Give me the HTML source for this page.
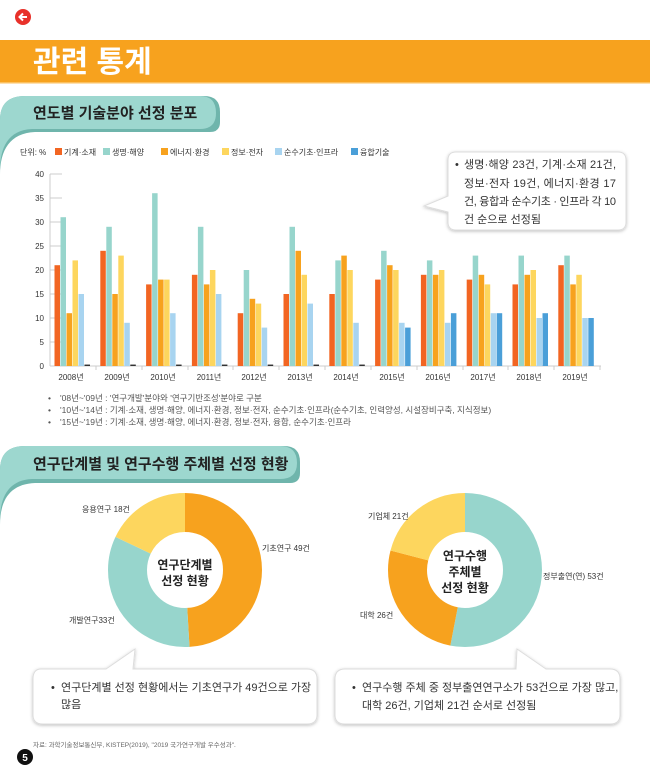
<!DOCTYPE html>
<html><head><meta charset="utf-8"><style>
html,body{margin:0;padding:0;background:#fff;}
svg{display:block;font-family:"Liberation Sans","Noto Sans CJK KR",sans-serif;}
.a{fill:#f26522}.b{fill:#97d5cc}.c{fill:#f7a21e}.d{fill:#fdd65e}.e{fill:#a8d4f0}.f{fill:#4a9fd8}.z{fill:#333}
.yl{font-size:8px;fill:#333;text-anchor:end}
.xl{font-size:8px;fill:#333;text-anchor:middle}
.lg{font-size:8px;fill:#333}
.nt{font-size:8.5px;fill:#555}
</style></head><body>
<svg width="650" height="780" viewBox="0 0 650 780" xmlns="http://www.w3.org/2000/svg">
<defs><filter id="sh" x="-10%" y="-10%" width="120%" height="130%"><feDropShadow dx="0" dy="1" stdDeviation="1.5" flood-color="#000" flood-opacity="0.25"/></filter></defs>
<circle cx="23" cy="17" r="8" fill="#e8312a"/>
<path d="M27 17 H20 M23 13.5 L19.5 17 L23 20.5" stroke="#fff" stroke-width="2" fill="none"/>
<rect x="0" y="40" width="650" height="43" fill="#f7a21e"/>
<rect x="0" y="82" width="650" height="1.5" fill="#fbc060"/>
<text x="33" y="72" font-size="30" font-weight="bold" fill="#fff">관련 통계</text>

<path d="M0 175 C0 150 10 133 35 132 L210 132 Q220 132 220 122 L220 112 Q220 96 204 96 L25 96 Q0 96 0 120 Z" fill="#6fb5ac"/>
<path d="M0 170 C0 148 8 130 32 129 L200 129 Q216 129 216 113 Q216 96 200 96 L25 96 Q0 96 0 120 Z" fill="#9dd7cf"/>
<text x="33" y="118" font-size="15" font-weight="bold" fill="#222">연도별 기술분야 선정 분포</text>

<text x="20" y="155" class="lg">단위: %</text>
<rect x="55" y="148" width="7" height="7" class="a"/><text x="64" y="155" class="lg">기계·소재</text>
<rect x="103" y="148" width="7" height="7" class="b"/><text x="112" y="155" class="lg">생명·해양</text>
<rect x="161" y="148" width="7" height="7" class="c"/><text x="170" y="155" class="lg">에너지·환경</text>
<rect x="222" y="148" width="7" height="7" class="d"/><text x="231" y="155" class="lg">정보·전자</text>
<rect x="275" y="148" width="7" height="7" class="e"/><text x="284" y="155" class="lg">순수기초·인프라</text>
<rect x="351" y="148" width="7" height="7" class="f"/><text x="360" y="155" class="lg">융합기술</text>

<path d="M456 152 H618 Q626 152 626 160 V222 Q626 230 618 230 H456 Q448 230 448 222 V212 L424 206 L448 196 V160 Q448 152 456 152 Z" fill="#fff" stroke="#ddd" stroke-width="1" filter="url(#sh)"/>
<g font-size="11" fill="#333">
<text x="455" y="168">•</text>
<text x="464" y="168" textLength="152" lengthAdjust="spacing">생명·해양 23건, 기계·소재 21건,</text>
<text x="464" y="187" textLength="152" lengthAdjust="spacing">정보·전자 19건, 에너지·환경 17</text>
<text x="464" y="205" textLength="152" lengthAdjust="spacing">건, 융합과 순수기초 · 인프라 각 10</text>
<text x="464" y="223">건 순으로 선정됨</text>
</g>

<g stroke="#ccc" stroke-width="1">
<line x1="50" y1="174" x2="50" y2="366"/>
<line x1="50" y1="366" x2="601" y2="366"/>
<line x1="50" y1="174" x2="62" y2="174"/><line x1="50" y1="198" x2="62" y2="198"/><line x1="50" y1="222" x2="62" y2="222"/><line x1="50" y1="246" x2="62" y2="246"/><line x1="50" y1="270" x2="62" y2="270"/><line x1="50" y1="294" x2="62" y2="294"/><line x1="50" y1="318" x2="62" y2="318"/><line x1="50" y1="342" x2="62" y2="342"/>
<line x1="96" y1="366" x2="96" y2="370"/><line x1="142" y1="366" x2="142" y2="370"/><line x1="188" y1="366" x2="188" y2="370"/><line x1="233" y1="366" x2="233" y2="370"/><line x1="279" y1="366" x2="279" y2="370"/><line x1="325" y1="366" x2="325" y2="370"/><line x1="371" y1="366" x2="371" y2="370"/><line x1="417" y1="366" x2="417" y2="370"/><line x1="463" y1="366" x2="463" y2="370"/><line x1="508" y1="366" x2="508" y2="370"/><line x1="554" y1="366" x2="554" y2="370"/><line x1="600" y1="366" x2="600" y2="370"/>
</g>
<text x="44" y="177" class="yl">40</text><text x="44" y="201" class="yl">35</text><text x="44" y="225" class="yl">30</text><text x="44" y="249" class="yl">25</text><text x="44" y="273" class="yl">20</text><text x="44" y="297" class="yl">15</text><text x="44" y="321" class="yl">10</text><text x="44" y="345" class="yl">5</text><text x="44" y="369" class="yl">0</text>

<g transform="translate(54.5,366) scale(1,-4.8)"><rect x="0" width="5.5" height="21" class="a"/><rect x="6" width="5.5" height="31" class="b"/><rect x="12" width="5.5" height="11" class="c"/><rect x="18" width="5.5" height="22" class="d"/><rect x="24" width="5.5" height="15" class="e"/><rect x="30" width="5.5" height="0.3" class="z"/></g>
<g transform="translate(100.3,366) scale(1,-4.8)"><rect x="0" width="5.5" height="24" class="a"/><rect x="6" width="5.5" height="29" class="b"/><rect x="12" width="5.5" height="15" class="c"/><rect x="18" width="5.5" height="23" class="d"/><rect x="24" width="5.5" height="9" class="e"/><rect x="30" width="5.5" height="0.3" class="z"/></g>
<g transform="translate(146.1,366) scale(1,-4.8)"><rect x="0" width="5.5" height="17" class="a"/><rect x="6" width="5.5" height="36" class="b"/><rect x="12" width="5.5" height="18" class="c"/><rect x="18" width="5.5" height="18" class="d"/><rect x="24" width="5.5" height="11" class="e"/><rect x="30" width="5.5" height="0.3" class="z"/></g>
<g transform="translate(191.9,366) scale(1,-4.8)"><rect x="0" width="5.5" height="19" class="a"/><rect x="6" width="5.5" height="29" class="b"/><rect x="12" width="5.5" height="17" class="c"/><rect x="18" width="5.5" height="20" class="d"/><rect x="24" width="5.5" height="15" class="e"/><rect x="30" width="5.5" height="0.3" class="z"/></g>
<g transform="translate(237.7,366) scale(1,-4.8)"><rect x="0" width="5.5" height="11" class="a"/><rect x="6" width="5.5" height="20" class="b"/><rect x="12" width="5.5" height="14" class="c"/><rect x="18" width="5.5" height="13" class="d"/><rect x="24" width="5.5" height="8" class="e"/><rect x="30" width="5.5" height="0.3" class="z"/></g>
<g transform="translate(283.5,366) scale(1,-4.8)"><rect x="0" width="5.5" height="15" class="a"/><rect x="6" width="5.5" height="29" class="b"/><rect x="12" width="5.5" height="24" class="c"/><rect x="18" width="5.5" height="19" class="d"/><rect x="24" width="5.5" height="13" class="e"/><rect x="30" width="5.5" height="0.3" class="z"/></g>
<g transform="translate(329.3,366) scale(1,-4.8)"><rect x="0" width="5.5" height="15" class="a"/><rect x="6" width="5.5" height="22" class="b"/><rect x="12" width="5.5" height="23" class="c"/><rect x="18" width="5.5" height="20" class="d"/><rect x="24" width="5.5" height="9" class="e"/><rect x="30" width="5.5" height="0.3" class="z"/></g>
<g transform="translate(375.1,366) scale(1,-4.8)"><rect x="0" width="5.5" height="18" class="a"/><rect x="6" width="5.5" height="24" class="b"/><rect x="12" width="5.5" height="21" class="c"/><rect x="18" width="5.5" height="20" class="d"/><rect x="24" width="5.5" height="9" class="e"/><rect x="30" width="5.5" height="8" class="f"/></g>
<g transform="translate(420.9,366) scale(1,-4.8)"><rect x="0" width="5.5" height="19" class="a"/><rect x="6" width="5.5" height="22" class="b"/><rect x="12" width="5.5" height="19" class="c"/><rect x="18" width="5.5" height="20" class="d"/><rect x="24" width="5.5" height="9" class="e"/><rect x="30" width="5.5" height="11" class="f"/></g>
<g transform="translate(466.7,366) scale(1,-4.8)"><rect x="0" width="5.5" height="18" class="a"/><rect x="6" width="5.5" height="23" class="b"/><rect x="12" width="5.5" height="19" class="c"/><rect x="18" width="5.5" height="17" class="d"/><rect x="24" width="5.5" height="11" class="e"/><rect x="30" width="5.5" height="11" class="f"/></g>
<g transform="translate(512.5,366) scale(1,-4.8)"><rect x="0" width="5.5" height="17" class="a"/><rect x="6" width="5.5" height="23" class="b"/><rect x="12" width="5.5" height="19" class="c"/><rect x="18" width="5.5" height="20" class="d"/><rect x="24" width="5.5" height="10" class="e"/><rect x="30" width="5.5" height="11" class="f"/></g>
<g transform="translate(558.3,366) scale(1,-4.8)"><rect x="0" width="5.5" height="21" class="a"/><rect x="6" width="5.5" height="23" class="b"/><rect x="12" width="5.5" height="17" class="c"/><rect x="18" width="5.5" height="19" class="d"/><rect x="24" width="5.5" height="10" class="e"/><rect x="30" width="5.5" height="10" class="f"/></g>

<text x="71" y="380" class="xl">2008년</text><text x="117" y="380" class="xl">2009년</text><text x="163" y="380" class="xl">2010년</text><text x="209" y="380" class="xl">2011년</text><text x="254" y="380" class="xl">2012년</text><text x="300" y="380" class="xl">2013년</text><text x="346" y="380" class="xl">2014년</text><text x="392" y="380" class="xl">2015년</text><text x="438" y="380" class="xl">2016년</text><text x="483" y="380" class="xl">2017년</text><text x="529" y="380" class="xl">2018년</text><text x="575" y="380" class="xl">2019년</text>

<text x="48" y="401" class="nt">•</text><text x="60" y="401" class="nt">'08년~'09년 : '연구개발'분야와 '연구기반조성'분야로 구분</text>
<text x="48" y="413" class="nt">•</text><text x="60" y="413" class="nt">'10년~'14년 : 기계·소재, 생명·해양, 에너지·환경, 정보·전자, 순수기초·인프라(순수기초, 인력양성, 시설장비구축, 지식정보)</text>
<text x="48" y="425" class="nt">•</text><text x="60" y="425" class="nt">'15년~'19년 : 기계·소재, 생명·해양, 에너지·환경, 정보·전자, 융합, 순수기초·인프라</text>

<path d="M0 525 C0 500 10 484 35 483 L290 483 Q300 483 300 473 L300 462 Q300 446 284 446 L25 446 Q0 446 0 470 Z" fill="#6fb5ac"/>
<path d="M0 520 C0 498 8 480 32 479 L280 479 Q297 479 297 463 Q297 446 280 446 L25 446 Q0 446 0 470 Z" fill="#9dd7cf"/>
<text x="33" y="469" font-size="15" font-weight="bold" fill="#222">연구단계별 및 연구수행 주체별 선정 현황</text>

<g transform="translate(185,570) rotate(-90)">
<circle r="57.5" fill="none" stroke="#f7a21e" stroke-width="39" stroke-dasharray="177.03 1000" />
<circle r="57.5" fill="none" stroke="#97d5cc" stroke-width="39" stroke-dasharray="0 177.03 119.22 1000"/>
<circle r="57.5" fill="none" stroke="#fdd65e" stroke-width="39" stroke-dasharray="0 296.25 65.04 1000"/>
</g>
<g font-size="12" font-weight="bold" fill="#222" text-anchor="middle">
<text x="185" y="569">연구단계별</text><text x="185" y="585">선정 현황</text>
</g>
<g transform="translate(465,570) rotate(-90)">
<circle r="57.5" fill="none" stroke="#97d5cc" stroke-width="39" stroke-dasharray="191.48 1000"/>
<circle r="57.5" fill="none" stroke="#f7a21e" stroke-width="39" stroke-dasharray="0 191.48 93.93 1000"/>
<circle r="57.5" fill="none" stroke="#fdd65e" stroke-width="39" stroke-dasharray="0 285.41 75.88 1000"/>
</g>
<g font-size="12" font-weight="bold" fill="#222" text-anchor="middle">
<text x="465" y="560">연구수행</text><text x="465" y="576">주체별</text><text x="465" y="592">선정 현황</text>
</g>
<g font-size="8" fill="#333">
<text x="82" y="512">응용연구 18건</text>
<text x="262" y="551">기초연구 49건</text>
<text x="69" y="623">개발연구33건</text>
<text x="368" y="519">기업체 21건</text>
<text x="543" y="579">정부출연(연) 53건</text>
<text x="360" y="618">대학 26건</text>
</g>

<path d="M41 669 H106 L135 649 L133 669 H307 Q317 669 317 679 V715 Q317 724 307 724 H43 Q33 724 33 715 V679 Q33 669 41 669 Z" fill="#fff" stroke="#ddd" filter="url(#sh)"/>
<path d="M345 669 H516 L517 649 L546 669 H610 Q620 669 620 679 V715 Q620 724 610 724 H345 Q335 724 335 715 V679 Q335 669 345 669 Z" fill="#fff" stroke="#ddd" filter="url(#sh)"/>
<g font-size="11" fill="#333">
<text x="51" y="691">•</text><text x="61" y="691">연구단계별 선정 현황에서는 기초연구가 49건으로 가장</text>
<text x="61" y="708">많음</text>
<text x="352" y="691">•</text><text x="362" y="691">연구수행 주체 중 정부출연연구소가 53건으로 가장 많고,</text>
<text x="362" y="709">대학 26건, 기업체 21건 순서로 선정됨</text>
</g>

<text x="33" y="747" font-size="6.5" fill="#666">자료: 과학기술정보통신부, KISTEP(2019), "2019 국가연구개발 우수성과".</text>
<circle cx="25" cy="757" r="8" fill="#111"/>
<text x="25" y="761" font-size="10" font-weight="bold" fill="#fff" text-anchor="middle">5</text>
</svg>
</body></html>
